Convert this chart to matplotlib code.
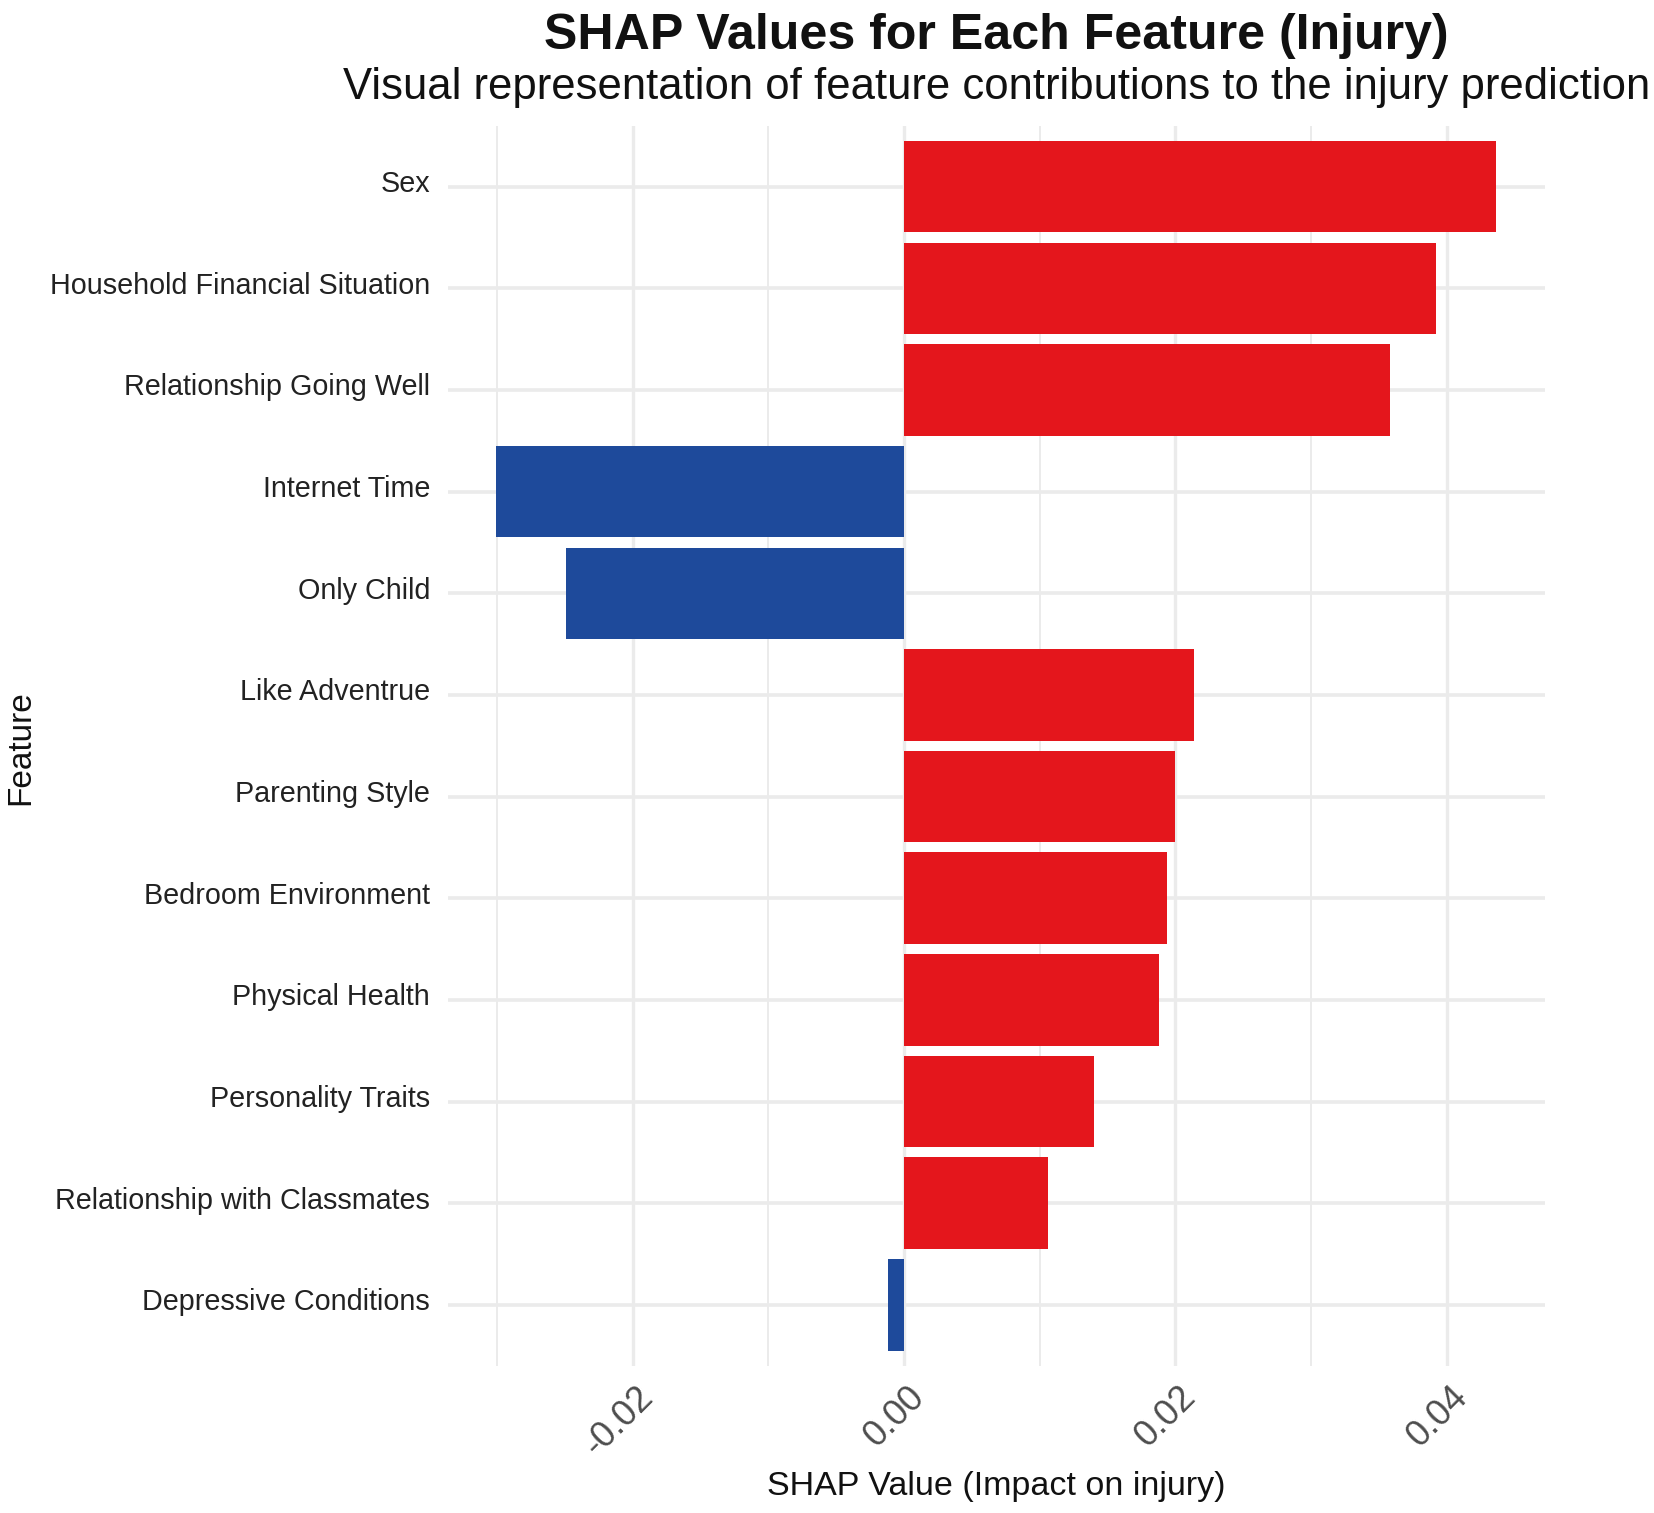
import matplotlib
matplotlib.use("Agg")
import matplotlib.pyplot as plt
import matplotlib.transforms as mtransforms
import numpy as np

# data
features = ["Sex", "Household Financial Situation", "Relationship Going Well",
            "Internet Time", "Only Child", "Like Adventrue", "Parenting Style",
            "Bedroom Environment", "Physical Health", "Personality Traits",
            "Relationship with Classmates", "Depressive Conditions"]
shap_values = [0.0436, 0.0392, 0.0358, -0.0301, -0.0249, 0.0214, 0.0200,
               0.0194, 0.0188, 0.0140, 0.0106, -0.0012]
x_ticks = [-0.02, 0.00, 0.02, 0.04]
x_tick_labels = ["-0.02", "0.00", "0.02", "0.04"]
x_minor = [-0.03, -0.01, 0.01, 0.03]

plt.rcParams["font.family"] = ["Liberation Sans", "DejaVu Sans"]

red = "#E4161C"
blue = "#1E4A9B"
grid_col = "#EBEBEB"

fig = plt.figure(figsize=[16.54, 15.13], dpi=100)
ax = fig.add_axes([0.2709, 0.0973, 0.6632, 0.8196])

y = np.arange(len(features))
colors = [red if v > 0 else blue for v in shap_values]
ax.barh(y, shap_values, height=0.9, color=colors, zorder=3)

ax.set_xlim(-0.0336, 0.04723)
ax.set_ylim(len(features) - 0.4, -0.6)

# grid
for xv in x_minor:
    ax.axvline(xv, color=grid_col, lw=1.4, zorder=1)
for xv in x_ticks:
    ax.axvline(xv, color=grid_col, lw=2.4, zorder=1)
for yv in y:
    ax.axhline(yv, color=grid_col, lw=2.6, zorder=1)

for s in ax.spines.values():
    s.set_visible(False)

ax.set_yticks(y)
ax.set_yticklabels(features, fontsize=20.7, color="#222222")
ax.tick_params(axis="y", length=0, pad=13)
# labels sit a touch above the grid line in the reference
up = mtransforms.ScaledTranslation(0, 4 / 72, fig.dpi_scale_trans)
for lab in ax.get_yticklabels():
    lab.set_transform(lab.get_transform() + up)

ax.set_xticks(x_ticks)
ax.set_xticklabels(x_tick_labels, fontsize=26, color="#4D4D4D",
                   rotation=45, ha="right", va="top", rotation_mode="anchor")
ax.tick_params(axis="x", length=0, pad=10)
right = mtransforms.ScaledTranslation(2 / 72, 0, fig.dpi_scale_trans)
for lab in ax.get_xticklabels():
    lab.set_transform(lab.get_transform() + right)

fig.text(0.2709 + 0.6632 / 2, 0.0175, "SHAP Value (Impact on injury)",
         fontsize=24.5, color="#111111", ha="center", va="center")

fig.text(0.0127, 0.506, "Feature", fontsize=24, rotation=90,
         ha="center", va="center", color="#111111")

cx = 0.2709 + 0.6632 / 2
fig.text(cx, 0.9765, "SHAP Values for Each Feature (Injury)", fontsize=36.1,
         fontweight="bold", ha="center", va="center", color="#111111")
fig.text(cx, 0.9420, "Visual representation of feature contributions to the injury prediction",
         fontsize=31.4, ha="center", va="center", color="#111111")

fig.savefig("out.png", dpi=100, facecolor="white")
